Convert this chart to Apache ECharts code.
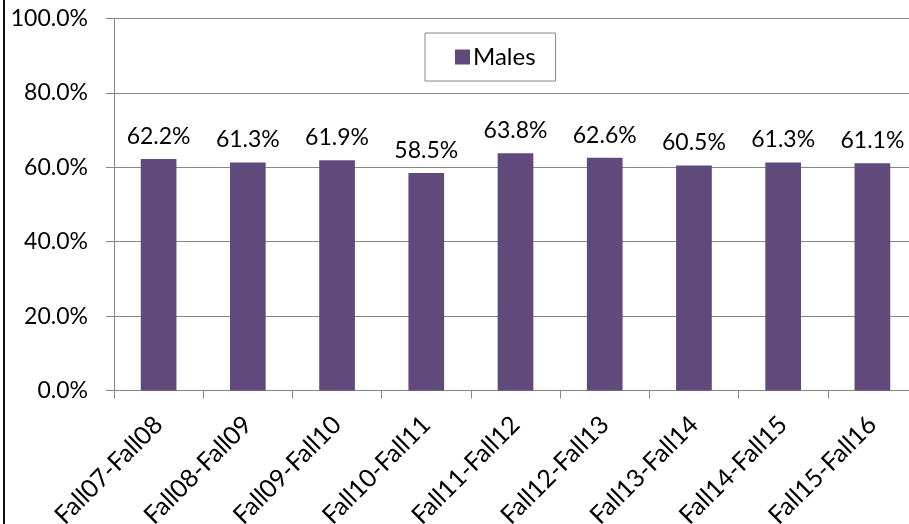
<!DOCTYPE html>
<html>
<head>
<meta charset="utf-8">
<style>
  html, body { margin: 0; padding: 0; background: #fff; overflow: hidden; }
  #main { width: 909px; height: 524px; }
</style>
<script src="https://cdn.jsdelivr.net/npm/echarts@6/dist/echarts.min.js"></script>
</head>
<body>
<div id="main"></div>
<script>
    // 数据
    var periods = ['Fall07-Fall08', 'Fall08-Fall09', 'Fall09-Fall10', 'Fall10-Fall11', 'Fall11-Fall12',
                   'Fall12-Fall13', 'Fall13-Fall14', 'Fall14-Fall15', 'Fall15-Fall16'];
    var males = [62.2, 61.3, 61.9, 58.5, 63.8, 62.6, 60.5, 61.3, 61.1];
    var yTicks = [0, 20, 40, 60, 80, 100];

    var font = 'Lato';
    var gridColor = '#878787';

    var myChart = echarts.init(document.getElementById('main'));
    myChart.setOption({
        animation: false,
        textStyle: { fontFamily: font },
        grid: {
            left: 114,
            right: -8,
            top: 18.5,
            bottom: 133.5,
            containLabel: false,
            outerBoundsMode: 'none'
        },
        legend: {
            data: ['Males'],
            left: 425,
            top: 33,
            padding: [12, 20, 12, 30],
            itemWidth: 15,
            itemHeight: 15,
            itemGap: 0,
            icon: 'rect',
            borderColor: gridColor,
            borderWidth: 1,
            textStyle: { fontSize: 24, color: '#000', fontFamily: font, padding: [0, 0, 0, -2] }
        },
        xAxis: {
            type: 'category',
            data: periods,
            boundaryGap: true,
            axisLine: { lineStyle: { color: gridColor, width: 1 } },
            axisTick: { show: true, length: 8, lineStyle: { color: gridColor } },
            axisLabel: {
                rotate: 45,
                interval: 0,
                margin: 30,
                fontSize: 25,
                color: '#000',
                fontFamily: font
            }
        },
        yAxis: {
            type: 'value',
            min: yTicks[0],
            max: yTicks[yTicks.length - 1],
            interval: 20,
            axisLine: { show: true, lineStyle: { color: gridColor, width: 1 } },
            axisTick: { show: true, length: 8, lineStyle: { color: gridColor } },
            splitLine: { show: true, lineStyle: { color: gridColor, width: 1 } },
            axisLabel: {
                margin: 26,
                fontSize: 23,
                color: '#000',
                fontFamily: font,
                formatter: function (v) { return v.toFixed(1) + '%'; }
            }
        },
        series: [{
            name: 'Males',
            type: 'bar',
            data: males,
            barWidth: '40%',
            itemStyle: { color: '#604A7B' },
            label: {
                show: true,
                position: 'top',
                distance: 11,
                fontSize: 23,
                color: '#000',
                fontFamily: font,
                formatter: function (p) { return p.value.toFixed(1) + '%'; }
            }
        }],
        graphic: [{
            type: 'line',
            shape: { x1: 4, y1: 0, x2: 4, y2: 524 },
            style: { stroke: '#111', lineWidth: 2 }
        }]
    });
</script>
</body>
</html>
